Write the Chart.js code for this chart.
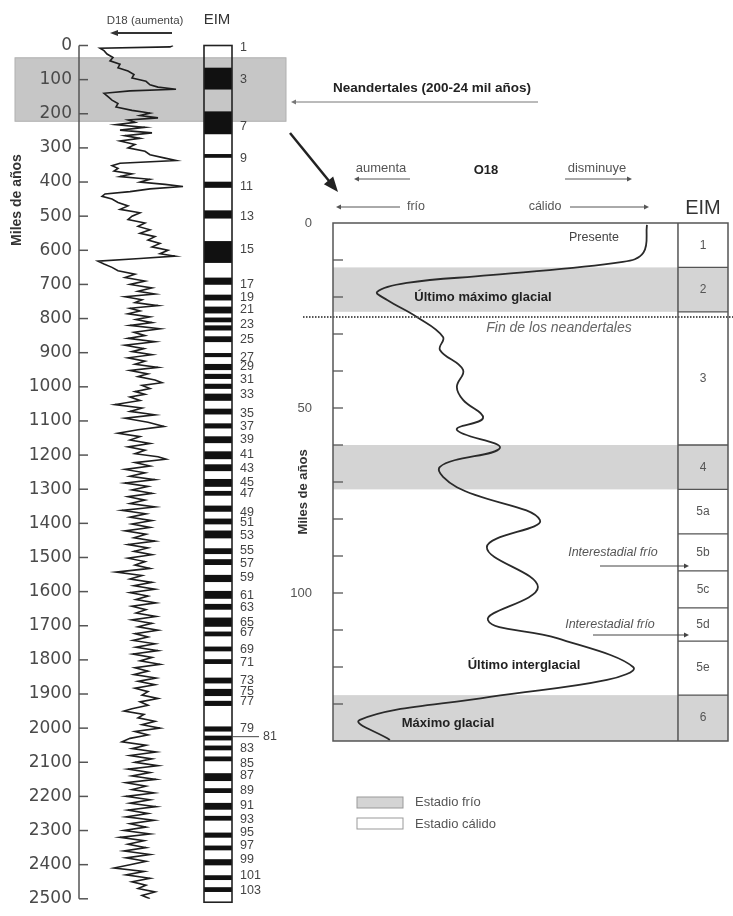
<!DOCTYPE html>
<html><head><meta charset="utf-8">
<script src="https://cdn.jsdelivr.net/npm/chart.js@4/dist/chart.umd.min.js"></script>
<style>
html,body{margin:0;padding:0;background:#fff;}
#wrap{position:relative;width:733px;height:916px;overflow:hidden;}
canvas{position:absolute;left:0;top:0;}
</style></head><body>
<div id="wrap"><canvas id="left" width="733" height="916"></canvas><canvas id="right" width="733" height="916"></canvas></div>
<script>
// ---------- LEFT PANEL DATA (ka, relative O18 index: higher = warmer / lower O18) ----------
const leftAges = [
 0,4,8,15,25,35,45,55,65,75,
 85,95,105,115,122,128,133,140,150,160,
 170,180,190,198,205,212,218,225,232,240,
 248,256,264,272,280,290,300,310,320,330,
 337,345,352,360,368,376,384,392,400,407,
 413,420,428,435,442,450,460,470,480,490,
 500,510,520,530,540,550,560,570,580,590,
 600,610,617,624,632,640,650,660,670,680,
 690,700,710,720,728,736,745,753,762,770,
 778,786,795,803,812,820,830,840,850,858,
 868,878,888,897,906,915,925,934,943,952,
 962,970,980,988,996,1005,1014,1022,1030,1040,
 1052,1062,1072,1082,1092,1104,1116,1126,1136,1146,
 1156,1166,1176,1186,1196,1205,1212,1222,1232,1242,
 1252,1262,1272,1282,1292,1302,1312,1322,1332,1342,
 1352,1362,1372,1382,1392,1402,1412,1422,1432,1442,
 1452,1462,1472,1482,1492,1502,1512,1522,1532,1543,
 1553,1563,1573,1583,1593,1603,1613,1623,1633,1643,
 1653,1663,1673,1683,1693,1703,1713,1723,1733,1743,
 1753,1763,1773,1783,1793,1803,1813,1823,1833,1843,
 1853,1863,1873,1883,1893,1903,1913,1923,1933,1943,
 1950,1960,1970,1980,1990,2000,2010,2020,2030,2040,
 2050,2060,2070,2080,2090,2100,2110,2120,2130,2140,
 2150,2160,2170,2180,2190,2200,2210,2220,2230,2240,
 2250,2260,2270,2280,2290,2300,2310,2320,2330,2340,
 2350,2360,2370,2380,2390,2400,2410,2420,2430,2440,
 2450,2460,2470,2480,2490,2500
];
const leftO18 = [
 73,70,0,4,7,13,10,20,18,28,
 34,32,46,50,58,76,30,4,8,12,
 18,16,32,50,40,58,28,35,16,45,
 20,52,25,40,20,35,28,45,50,65,
 76,20,12,18,14,32,20,50,40,65,
 83,50,30,5,2,12,18,28,20,40,
 32,28,45,38,50,40,55,48,60,52,
 68,60,75,40,-2,4,12,18,35,25,
 45,30,52,38,55,25,42,35,58,30,
 40,28,50,36,52,30,60,34,45,28,
 55,25,44,32,52,28,45,35,58,30,
 48,38,55,62,42,50,35,45,30,40,
 15,42,30,55,25,48,64,38,18,40,
 30,50,28,45,35,58,66,35,50,25,
 45,30,55,25,48,32,52,28,45,30,
 55,22,46,30,52,32,50,25,46,34,
 55,28,48,34,52,28,45,35,50,16,
 42,30,52,34,55,30,48,36,56,32,
 46,36,56,32,52,38,58,35,48,33,
 55,36,58,33,52,40,60,35,48,34,
 56,38,55,35,48,42,58,40,48,32,
 24,44,38,55,42,60,35,48,30,22,
 46,32,56,30,52,35,58,28,50,32,
 56,26,46,32,54,26,50,30,56,28,
 48,26,54,30,46,24,50,20,44,28,
 46,24,50,26,46,30,14,44,26,50,
 32,46,38,55,42,50
];
// EIM column: black stage bands (ka)
const eimBlackStart = [65,193,318,399,483,573,680,730,765,797,820,852,901,933,962,991,1020,1064,1107,1145,1189,1227,1270,1305,1348,1386,1421,1473,1505,1551,1598,1636,1676,1717,1761,1798,1852,1885,1920,1995,2022,2051,2083,2132,2176,2219,2257,2306,2344,2384,2431,2466];
const eimBlackEnd   = [129,260,329,417,507,637,701,747,785,811,835,869,913,951,977,1006,1041,1081,1122,1165,1212,1247,1293,1319,1366,1403,1444,1490,1522,1572,1621,1653,1703,1731,1775,1812,1869,1906,1935,2010,2036,2065,2097,2155,2190,2239,2271,2321,2358,2402,2445,2480];
const eimColumnEnd = 2510;
const eimLabels = ['1','3','7','9','11','13','15','17','19','21','23','25','27','29','31','33','35','37','39','41','43','45','47','49','51','53','55','57','59','61','63','65','67','69','71','73','75','77','79','81','83','85','87','89','91','93','95','97','99','101','103'];
const eimLabelAges = [7,100,237,332,414,501,599,701,739,775,817,861,913,942,980,1023,1078,1116,1154,1197,1238,1281,1313,1369,1398,1435,1479,1517,1560,1612,1647,1691,1720,1769,1807,1862,1894,1923,2001,2025,2059,2103,2140,2184,2228,2268,2306,2344,2385,2431,2475];
const neanderBand = [36, 222];
const leftTicks = {min:0, max:2500, step:100};

// ---------- RIGHT PANEL DATA (ka, relative index: 0 = cold, 100 = warm) ----------
const rightAges = [0.5,8,10.5,14.1,16.2,18.6,20.8,25.4,30.8,34.3,39.7,44.3,47.8,52.7,55.9,60.8,65.9,71.4,80.3,87.6,98.4,107.3,112.2,120,123.5,128.1,134.3,139.7];
const rightIndex = [91,90,84,45.5,21.4,12.8,15.7,24.3,31.9,31,37.7,35.9,37.7,43.5,35.9,48.4,31,35.9,60,44.6,59.4,44.9,64.9,87,79.4,45.5,7.8,16.5];
const stageNames  = ['1','2','3','4','5a','5b','5c','5d','5e','6'];
const stageBounds = [0,12,24,60,72,84,94,104,113,127.6,140];
const coldStages  = ['2','4','6'];
const neanderEnd = 25.4;
const rightTickLabels = [0,50,100];

// ---------- helpers ----------
const FF = '"Liberation Sans", Arial, sans-serif';
function text(ctx, s, x, y, font, color, align, rot) {
  ctx.save();
  ctx.font = font; ctx.fillStyle = color; ctx.textAlign = align || 'center'; ctx.textBaseline = 'middle';
  if (rot) { ctx.translate(x, y); ctx.rotate(rot); ctx.fillText(s, 0, 0); }
  else ctx.fillText(s, x, y);
  ctx.restore();
}
function arrow(ctx, x1, y1, x2, y2, o) {
  o = Object.assign({w:1, color:'#333', head:6, hw:3}, o || {});
  const a = Math.atan2(y2 - y1, x2 - x1);
  ctx.save();
  ctx.strokeStyle = o.color; ctx.fillStyle = o.color; ctx.lineWidth = o.w;
  ctx.beginPath(); ctx.moveTo(x1, y1);
  ctx.lineTo(x2 - Math.cos(a) * o.head * 0.6, y2 - Math.sin(a) * o.head * 0.6); ctx.stroke();
  ctx.beginPath(); ctx.moveTo(x2, y2);
  ctx.lineTo(x2 - Math.cos(a) * o.head + Math.sin(a) * o.hw, y2 - Math.sin(a) * o.head - Math.cos(a) * o.hw);
  ctx.lineTo(x2 - Math.cos(a) * o.head - Math.sin(a) * o.hw, y2 - Math.sin(a) * o.head + Math.cos(a) * o.hw);
  ctx.closePath(); ctx.fill();
  ctx.restore();
}
function line(ctx, x1, y1, x2, y2, color, w, dash) {
  ctx.save(); ctx.strokeStyle = color; ctx.lineWidth = w; if (dash) ctx.setLineDash(dash);
  ctx.beginPath(); ctx.moveTo(x1, y1); ctx.lineTo(x2, y2); ctx.stroke(); ctx.restore();
}

// ---------- LEFT CHART ----------
const leftDecor = {
  id: 'leftDecor',
  beforeDraw(chart) {
    const {ctx, scales: {y}} = chart;
    const y1 = y.getPixelForValue(neanderBand[0]), y2 = y.getPixelForValue(neanderBand[1]);
    ctx.save(); ctx.fillStyle = '#c6c6c6'; ctx.fillRect(15, y1, 271, y2 - y1);
    ctx.strokeStyle = '#b0b0b0'; ctx.lineWidth = 1; ctx.strokeRect(15, y1, 271, y2 - y1); ctx.restore();
  },
  afterDraw(chart) {
    const {ctx, chartArea: ca, scales: {y}} = chart;
    const cl = 204, cw = 28;
    ctx.save();
    ctx.fillStyle = '#111';
    eimBlackStart.forEach((s, i) => {
      const a = y.getPixelForValue(s), b = y.getPixelForValue(eimBlackEnd[i]);
      ctx.fillRect(cl, a, cw, b - a);
    });
    ctx.strokeStyle = '#222'; ctx.lineWidth = 1.6;
    const top = y.getPixelForValue(0), bot = y.getPixelForValue(eimColumnEnd);
    ctx.strokeRect(cl, top, cw, bot - top);
    ctx.restore();
    eimLabels.forEach((s, i) => {
      const py = y.getPixelForValue(eimLabelAges[i]);
      if (s === '81') {
        line(ctx, cl + cw, py, 259, py, '#444', 1);
        text(ctx, s, 263, py, '12.5px ' + FF, '#444', 'left');
      } else text(ctx, s, 240, py, '12.5px ' + FF, '#444', 'left');
    });
    line(ctx, ca.left, y.getPixelForValue(0), ca.left, y.getPixelForValue(2500), '#555', 1.5);
    y.ticks.forEach(t => { const py = y.getPixelForValue(t.value); line(ctx, ca.left, py, ca.left + 9, py, '#555', 1.5); });
    text(ctx, 'Miles de años', 17, 200, 'bold 14px ' + FF, '#333', 'center', -Math.PI / 2);
    text(ctx, 'D18 (aumenta)', 145, 21, '11.5px ' + FF, '#444');
    arrow(ctx, 172, 33, 110, 33, {w: 2, color: '#333', head: 8, hw: 3});
    text(ctx, 'EIM', 217, 20, '15px ' + FF, '#333');
  }
};

new Chart(document.getElementById('left'), {
  type: 'scatter',
  data: {datasets: [{
    label: 'O18',
    data: leftAges.map((a, i) => ({x: leftO18[i], y: a})),
    showLine: true, borderColor: '#1e1e1e', borderWidth: 1.6, pointRadius: 0, tension: 0, fill: false
  }]},
  options: {
    responsive: false, animation: false, devicePixelRatio: 1,
    layout: {padding: {left: 0, top: 45.5, right: 443, bottom: 9.5}},
    plugins: {legend: {display: false}, tooltip: {enabled: false}},
    scales: {
      x: {type: 'linear', min: -21, max: 190, display: false},
      y: {type: 'linear', min: leftTicks.min, max: leftTicks.max, reverse: true, position: 'left',
        afterFit(s) { s.width = 79; },
        grid: {display: false, drawTicks: false}, border: {display: false},
        ticks: {stepSize: leftTicks.step, autoSkip: false, padding: 7, color: '#4a4a4a',
          font: {family: 'DejaVu Sans', size: 17},
          callback: v => String(v)}}
    }
  },
  plugins: [leftDecor]
});

// ---------- RIGHT CHART ----------
const rightDecor = {
  id: 'rightDecor',
  beforeDatasetsDraw(chart) {
    const {ctx, chartArea: ca, scales: {y}} = chart;
    ctx.save(); ctx.fillStyle = '#d4d4d4';
    stageNames.forEach((n, i) => {
      if (coldStages.includes(n)) {
        const a = y.getPixelForValue(stageBounds[i]), b = y.getPixelForValue(stageBounds[i + 1]);
        ctx.fillRect(ca.left, a, ca.right - ca.left, b - a);
      }
    });
    ctx.restore();
  },
  afterDraw(chart) {
    const {ctx, chartArea: ca, scales: {x, y}} = chart;
    const colX = x.getPixelForValue(100);
    const c = '#555';
    stageBounds.forEach((b, i) => { if (i > 0 && i < stageBounds.length - 1) { const py = y.getPixelForValue(b); line(ctx, colX, py, ca.right, py, c, 1.3); } });
    ctx.save(); ctx.strokeStyle = c; ctx.lineWidth = 1.5; ctx.strokeRect(ca.left, ca.top, ca.right - ca.left, ca.bottom - ca.top); ctx.restore();
    line(ctx, colX, ca.top, colX, ca.bottom, c, 1.5);
    stageNames.forEach((n, i) => {
      const py = (y.getPixelForValue(stageBounds[i]) + y.getPixelForValue(stageBounds[i + 1])) / 2;
      text(ctx, n, (colX + ca.right) / 2, py, '12px ' + FF, '#555');
    });
    y.ticks.forEach(t => { if (t.value > 0 && t.value < 140) { const py = y.getPixelForValue(t.value); line(ctx, ca.left, py, ca.left + 10, py, c, 1.3); } });
    const dy = y.getPixelForValue(neanderEnd);
    line(ctx, 303, dy, 733, dy, '#555', 2, [1.5, 1.5]);
    text(ctx, 'Presente', 594, 238, '12.5px ' + FF, '#444');
    text(ctx, 'Último máximo glacial', 483, 297, 'bold 13px ' + FF, '#222');
    text(ctx, 'Fin de los neandertales', 559, 328, 'italic 14px ' + FF, '#666');
    text(ctx, 'Interestadial frío', 613, 553, 'italic 12.5px ' + FF, '#555');
    arrow(ctx, 600, 566, 689, 566, {w: 1, color: '#444', head: 5, hw: 2.5});
    text(ctx, 'Interestadial frío', 610, 625, 'italic 12.5px ' + FF, '#555');
    arrow(ctx, 593, 635, 689, 635, {w: 1, color: '#444', head: 5, hw: 2.5});
    text(ctx, 'Último interglacial', 524, 665, 'bold 13px ' + FF, '#222');
    text(ctx, 'Máximo glacial', 448, 723, 'bold 13px ' + FF, '#222');
    text(ctx, 'Miles de años', 303, 492, 'bold 13px ' + FF, '#333', 'center', -Math.PI / 2);
    text(ctx, 'aumenta', 381, 168, '13px ' + FF, '#555');
    arrow(ctx, 410, 179, 354, 179, {w: 1, color: '#555', head: 5, hw: 2.5});
    text(ctx, 'O18', 486, 170, 'bold 13px ' + FF, '#222');
    text(ctx, 'disminuye', 597, 168, '13px ' + FF, '#555');
    arrow(ctx, 565, 179, 632, 179, {w: 1, color: '#555', head: 5, hw: 2.5});
    text(ctx, 'frío', 416, 207, '12.5px ' + FF, '#555');
    arrow(ctx, 400, 207, 336, 207, {w: 1, color: '#555', head: 5, hw: 2.5});
    text(ctx, 'cálido', 545, 207, '12.5px ' + FF, '#555');
    arrow(ctx, 570, 207, 649, 207, {w: 1, color: '#555', head: 5, hw: 2.5});
    text(ctx, 'EIM', 703, 208, '20px ' + FF, '#333');
    ctx.save();
    ctx.fillStyle = '#d4d4d4'; ctx.strokeStyle = '#999'; ctx.lineWidth = 1;
    ctx.fillRect(357, 797, 46, 11); ctx.strokeRect(357, 797, 46, 11);
    ctx.fillStyle = '#fff'; ctx.fillRect(357, 818, 46, 11); ctx.strokeRect(357, 818, 46, 11);
    ctx.restore();
    text(ctx, 'Estadio frío', 415, 802, '13px ' + FF, '#555', 'left');
    text(ctx, 'Estadio cálido', 415, 824, '13px ' + FF, '#555', 'left');
    text(ctx, 'Neandertales (200-24 mil años)', 432, 88, 'bold 13.5px ' + FF, '#222');
    arrow(ctx, 538, 102, 291, 102, {w: 1, color: '#777', head: 5, hw: 2.5});
    arrow(ctx, 290, 133, 338, 192, {w: 2.5, color: '#222', head: 15, hw: 6});
  }
};

new Chart(document.getElementById('right'), {
  type: 'scatter',
  data: {datasets: [{
    label: 'O18 último ciclo',
    data: rightAges.map((a, i) => ({x: rightIndex[i], y: a})),
    showLine: true, borderColor: '#2a2a2a', borderWidth: 1.8, pointRadius: 0, tension: 0.4, fill: false
  }]},
  options: {
    responsive: false, animation: false, devicePixelRatio: 1,
    layout: {padding: {left: 290, top: 223, right: 5, bottom: 175}},
    plugins: {legend: {display: false}, tooltip: {enabled: false}},
    scales: {
      x: {type: 'linear', min: 0, max: 114.5, display: false},
      y: {type: 'linear', min: 0, max: 140, reverse: true, position: 'left',
        afterFit(s) { s.width = 43; },
        grid: {display: false, drawTicks: false}, border: {display: false},
        ticks: {stepSize: 10, autoSkip: false, padding: 21, color: '#555',
          font: {family: 'Liberation Sans', size: 13},
          callback: v => rightTickLabels.includes(v) ? String(v) : ''}}
    }
  },
  plugins: [rightDecor]
});
</script>
</body></html>
